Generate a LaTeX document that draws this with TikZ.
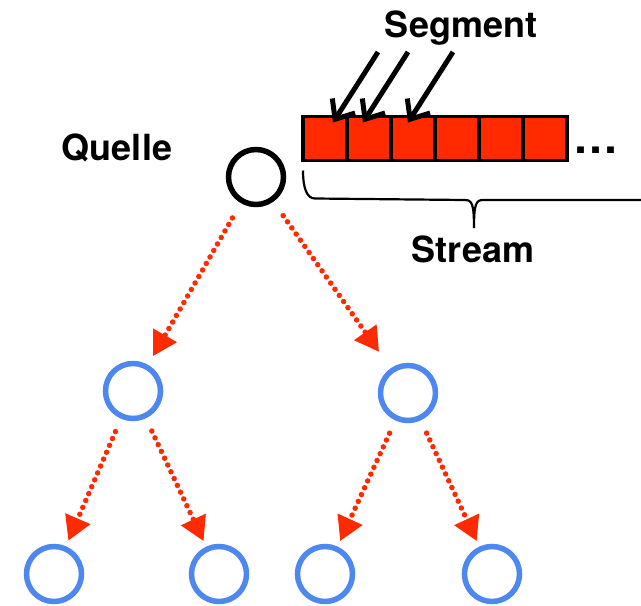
\documentclass[tikz,border=0pt]{standalone}
\usepackage{fontspec}
\setmainfont{TeX Gyre Heros}
\usetikzlibrary{shapes.geometric,arrows.meta,positioning}
\definecolor{segred}{RGB}{255,42,0}
\definecolor{peerblue}{RGB}{77,136,240}

\begin{document}
\begin{tikzpicture}[
  x=1pt, y=-1pt,
  peer/.style={draw=peerblue, circle, line width=5.5pt,
               minimum size=55pt, inner sep=0pt},
  src/.style={peer, draw=black},
  segbox/.style={draw, fill=segred, line width=3.5pt, outer sep=0pt,
                 inner sep=0pt, minimum width=44pt, minimum height=44pt},
  lbl/.style={font=\fontsize{36}{40}\selectfont\bfseries, inner sep=0pt},
  flow/.style={draw=segred, line width=5.5pt, line cap=round,
               dash pattern=on 0pt off 7.5pt,
               -{Triangle[length=24pt,width=26pt]}},
  pointer/.style={line width=5pt, -{Straight Barb[length=16pt,width=27pt]}},
  node distance=0pt
]
\useasboundingbox (0,0) rectangle (641,606);

% Tree of peers
\node[src]  (q)  at (256,177) {};
\node[peer] (l)  at (133,391) {};
\node[peer] (r)  at (408,393) {};
\node[peer] (ll) at (54,574)  {};
\node[peer] (lr) at (219,574) {};
\node[peer] (rl) at (325,574) {};
\node[peer] (rr) at (492,574) {};

% Dotted flows
\draw[flow, shorten <=17pt, shorten >=10pt] (q) -- (l);
\draw[flow, shorten <=17pt, shorten >=20pt] (q) -- (r);
\draw[flow, shorten <=14pt, shorten >=6pt]  (l) -- (ll);
\draw[flow, shorten <=14pt, shorten >=6pt]  (l) -- (lr);
\draw[flow, shorten <=14pt, shorten >=6pt]  (r) -- (rl);
\draw[flow, shorten <=14pt, shorten >=6pt]  (r) -- (rr);

% Stream of segments
\node[segbox] (seg1) at (325,138.5) {};
\node[segbox, right=of seg1] (seg2) {};
\node[segbox, right=of seg2] (seg3) {};
\node[segbox, right=of seg3] (seg4) {};
\node[segbox, right=of seg4] (seg5) {};
\node[segbox, right=of seg5] (seg6) {};
\node[font=\fontsize{45}{45}\selectfont\bfseries, inner sep=0pt, anchor=base]
  (more) at (596,153) {…};

% Labels
\node[lbl, anchor=base] (quelle) at (117,160) {Quelle};
\node[lbl, anchor=base] (seglbl) at (461,37)  {Segment};
\node[lbl, anchor=base] (strlbl) at (473,262) {Stream};

% Segment pointers
\coordinate (p1) at (378,52);
\coordinate (p2) at (408,52);
\coordinate (p3) at (453,52);
\draw[pointer] (p1) -- ([shift={(8,6)}]seg1.north);
\draw[pointer] (p2) -- ([shift={(-6,6)}]seg2.north);
\draw[pointer] (p3) -- ([shift={(-5,6)}]seg3.north);

% Brace under the stream
\draw[line width=2.2pt] (seg1.south west) ++(0,10)
  .. controls ++(0,18) and ++(-8,0) .. ++(12,28) coordinate (b1)
  -- (465,200) .. controls (472,200) and (474,204) .. (474,228)
  .. controls (474,204) and (476,200) .. (483,200) -- (641,200);
\end{tikzpicture}
\end{document}
